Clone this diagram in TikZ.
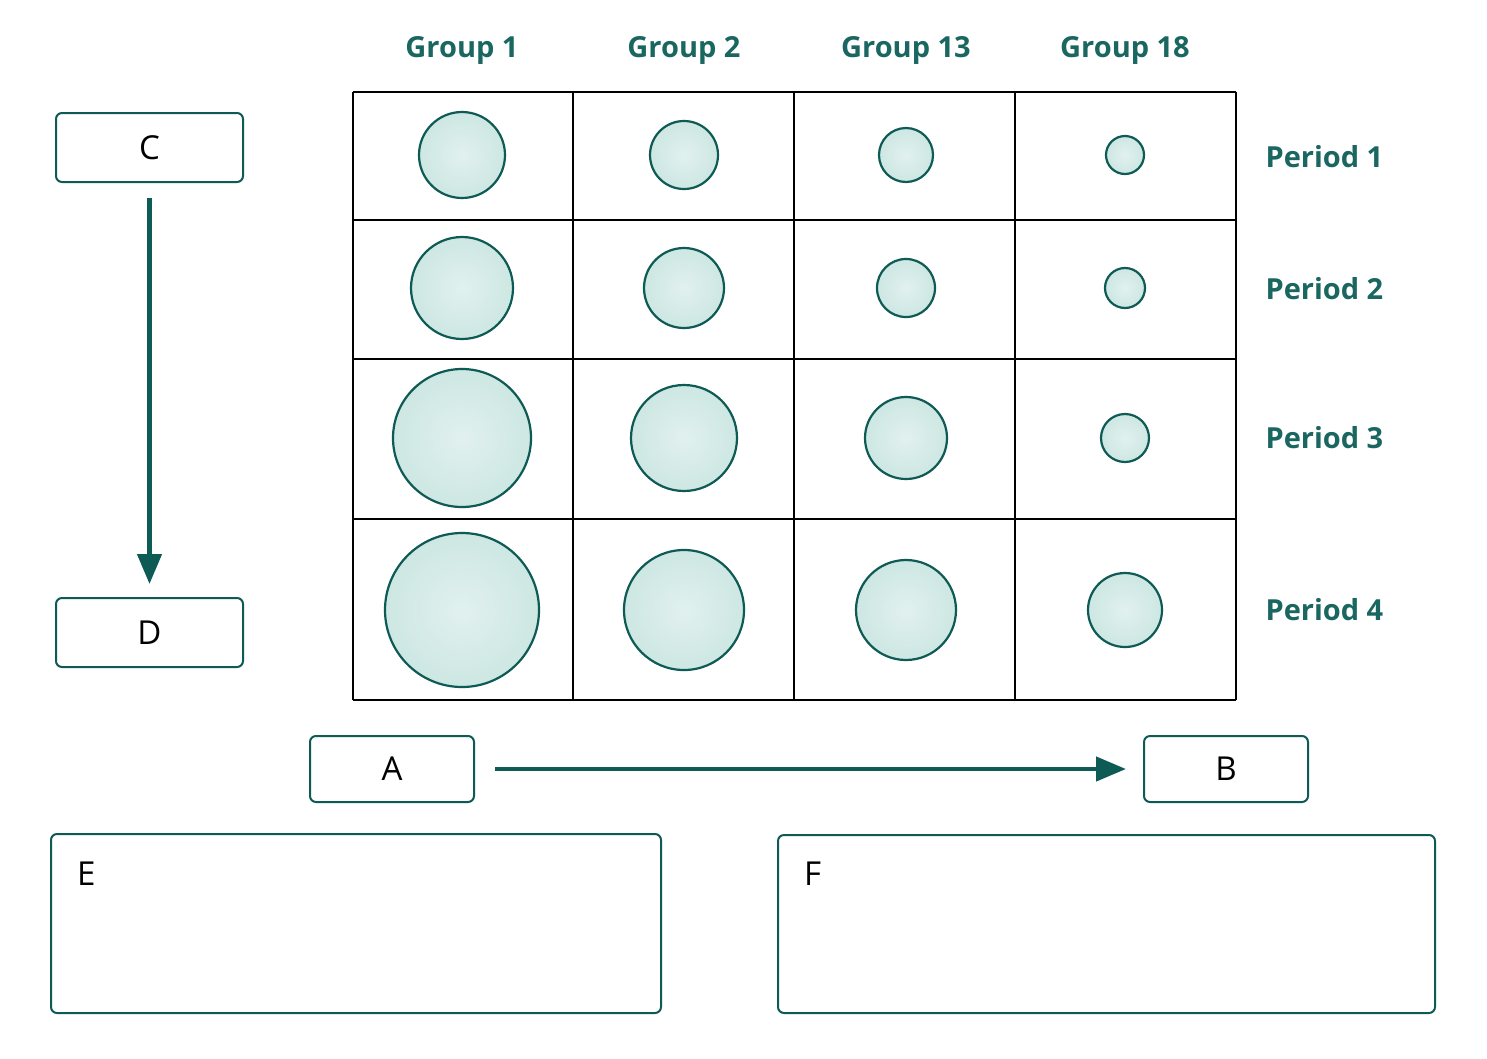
\documentclass[tikz,border=0pt]{standalone}
\usepackage{fontspec}
\setmainfont{Open Sans}
\usetikzlibrary{arrows.meta}
\definecolor{teal1}{HTML}{0E5A55}
\definecolor{tealt}{HTML}{1A6660}
\definecolor{tealf}{HTML}{CDE7E3}
\begin{document}
\begin{tikzpicture}[x=1pt,y=-1pt,
  lbl/.style={rounded corners=6pt,draw=teal1,line width=2pt,fill=white},
  atom/.style={circle,draw=teal1,line width=2.2pt,inner sep=0pt,inner color=tealf!60,outer color=tealf},
  hdr/.style={text=tealt,font=\fontsize{29}{33}\selectfont\bfseries},
  boxtxt/.style={font=\fontsize{33}{37}\selectfont},
  arr/.style={draw=teal1,line width=4.5pt,-{Triangle[length=30pt,width=24pt]}}]
\useasboundingbox (0,0) rectangle (1487,1058);
% grid
\foreach \x in {353,573,794,1015,1236} \draw[line width=1.5pt] (\x,92) -- (\x,700);
\foreach \y in {92,220,359,519,700} \draw[line width=1.5pt] (353,\y) -- (1236,\y);
% headers
\foreach \x/\t [count=\i] in {462/Group 1,684/Group 2,906/Group 13,1125/Group 18}
  \node[hdr] (g\i) at (\x,50) {\t};
\foreach \y/\t [count=\i] in {157/Period 1,289/Period 2,438/Period 3,610/Period 4}
  \node[hdr,anchor=west] (p\i) at (1262,\y) {\t};
% atoms
\foreach \y/\ra/\rb/\rc/\rd [count=\j] in {155/43/34/27/19, 288/51/40/29/20, 438/69/53/41/24, 610/77/60/50/37}{
  \node[atom,minimum size=2*\ra pt] (a\j1) at (462,\y) {};
  \node[atom,minimum size=2*\rb pt] (a\j2) at (684,\y) {};
  \node[atom,minimum size=2*\rc pt] (a\j3) at (906,\y) {};
  \node[atom,minimum size=2*\rd pt] (a\j4) at (1125,\y) {};
}
% label boxes
\node[lbl,boxtxt,minimum width=187pt,minimum height=69pt] (C) at (149.5,147.5) {C};
\node[lbl,boxtxt,minimum width=187pt,minimum height=69pt] (D) at (149.5,632.5) {D};
\node[lbl,boxtxt,minimum width=164pt,minimum height=66pt] (A) at (392,769) {A};
\node[lbl,boxtxt,minimum width=164pt,minimum height=66pt] (B) at (1226,769) {B};
\node[lbl,minimum width=610pt,minimum height=179pt] (E) at (356,923.5) {};
\node[lbl,minimum width=657pt,minimum height=178pt] (F) at (1106.5,924) {};
\node[boxtxt,anchor=north west,inner sep=0pt] (Et) at (77,862) {E};
\node[boxtxt,anchor=north west,inner sep=0pt] (Ft) at (804,862) {F};
% arrows
\draw[arr] ([yshift=-15pt]C.south) -- ([yshift=13pt]D.north);
\draw[arr] ([xshift=20pt]A.east) -- ([xshift=-17pt]B.west);
\end{tikzpicture}
\end{document}
